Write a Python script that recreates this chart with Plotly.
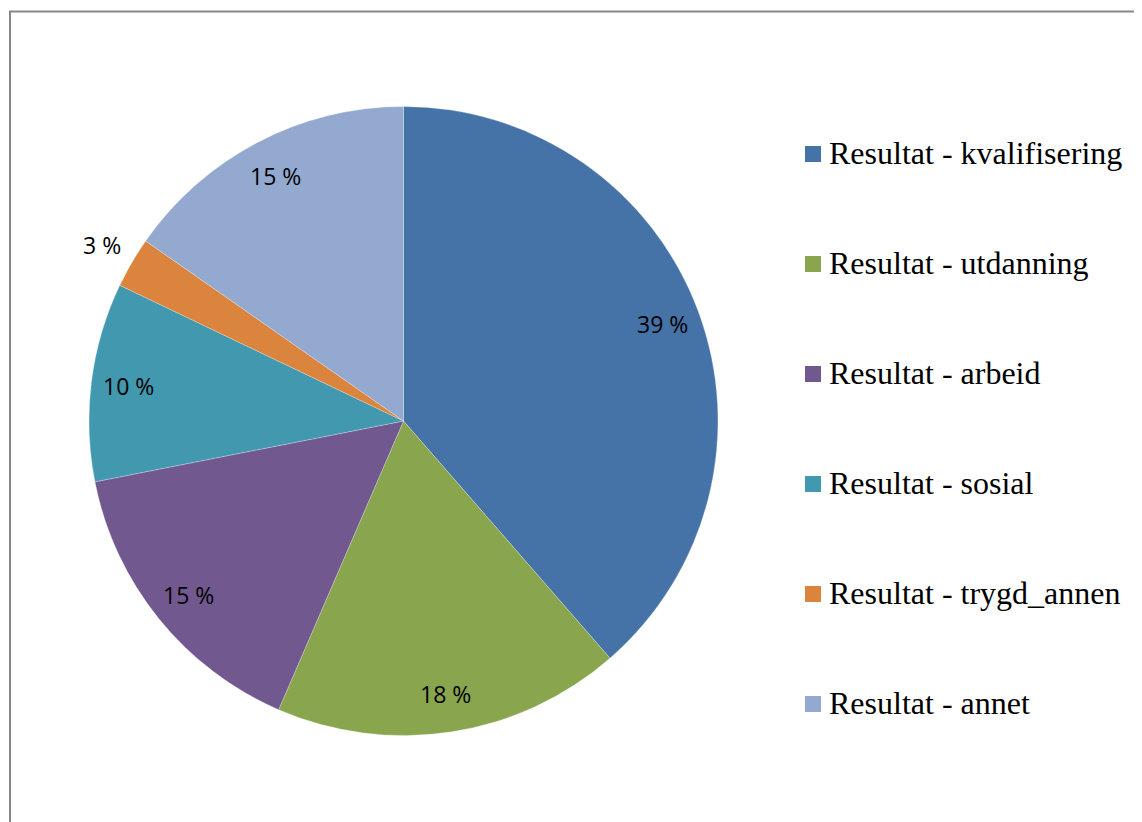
import math
import plotly.graph_objects as go

# Andel per resultatkategori (prosent)
kategorier = [
    "Resultat - kvalifisering",
    "Resultat - utdanning",
    "Resultat - arbeid",
    "Resultat - sosial",
    "Resultat - trygd_annen",
    "Resultat - annet",
]
andel = [38.6, 17.9, 15.4, 10.2, 2.6, 15.3]
farger = ["#4572A7", "#89A54E", "#71588F", "#4198AF", "#DB843D", "#93A9CF"]

W, H = 1142, 822
OFF = 8  # siden har 8 px marg rundt figuren

def xp(px):
    return (px - OFF) / W

def yp(py):
    return 1 - (py - OFF) / H

dom_x = [xp(89), xp(718)]
dom_y = [yp(735.5), yp(106.5)]

fig = go.Figure(
    go.Pie(
        labels=kategorier,
        values=andel,
        sort=False,
        direction="clockwise",
        rotation=0,
        marker=dict(colors=farger, line=dict(color="rgba(255,255,255,0.5)", width=0.5)),
        textinfo="none",
        hovertemplate="%{label}: %{value:.0f} %<extra></extra>",
        domain=dict(x=dom_x, y=dom_y),
        showlegend=False,
    )
)

# sentrum og radius i piksler, fra domenet
cx = W * (dom_x[0] + dom_x[1]) / 2
cy = H * (1 - (dom_y[0] + dom_y[1]) / 2)
r = min(W * (dom_x[1] - dom_x[0]), H * (dom_y[1] - dom_y[0])) / 2

annots = []
total = sum(andel)
cum = 0
for v in andel:
    mid = (cum + v / 2) / total
    cum += v
    vinkel = 2 * math.pi * mid
    rr = r * (1.11 if v / total < 0.05 else 0.88)
    px = cx + rr * math.sin(vinkel)
    py = cy - rr * math.cos(vinkel)
    annots.append(dict(
        x=px / W, y=1 - py / H, xref="paper", yref="paper",
        xanchor="center", yanchor="middle",
        text=f"{v:.0f} %", showarrow=False,
        font=dict(family="Open Sans", size=23, color="black"),
    ))

# egen forklaring til høyre
shapes = []
for i, (navn, farge) in enumerate(zip(kategorier, farger)):
    ymid = 154 + 110 * i
    shapes.append(dict(
        type="rect", xref="paper", yref="paper",
        x0=xp(805), x1=xp(821), y0=yp(ymid + 8), y1=yp(ymid - 8),
        fillcolor=farge, line=dict(width=0),
    ))
    annots.append(dict(
        x=xp(827), y=yp(ymid - 1), xref="paper", yref="paper",
        xanchor="left", yanchor="middle", text=navn, showarrow=False,
        font=dict(family="Liberation Serif", size=32, color="black"),
    ))

# ramme
shapes.append(dict(
    type="rect", xref="paper", yref="paper",
    x0=xp(10), x1=1.05, y0=-0.05, y1=yp(11.5),
    line=dict(color="#888888", width=2), fillcolor="rgba(0,0,0,0)",
))

fig.update_layout(
    width=W, height=H,
    margin=dict(l=0, r=0, t=0, b=0),
    paper_bgcolor="white",
    plot_bgcolor="white",
    annotations=annots,
    shapes=shapes,
)

fig.write_html("out.html")
